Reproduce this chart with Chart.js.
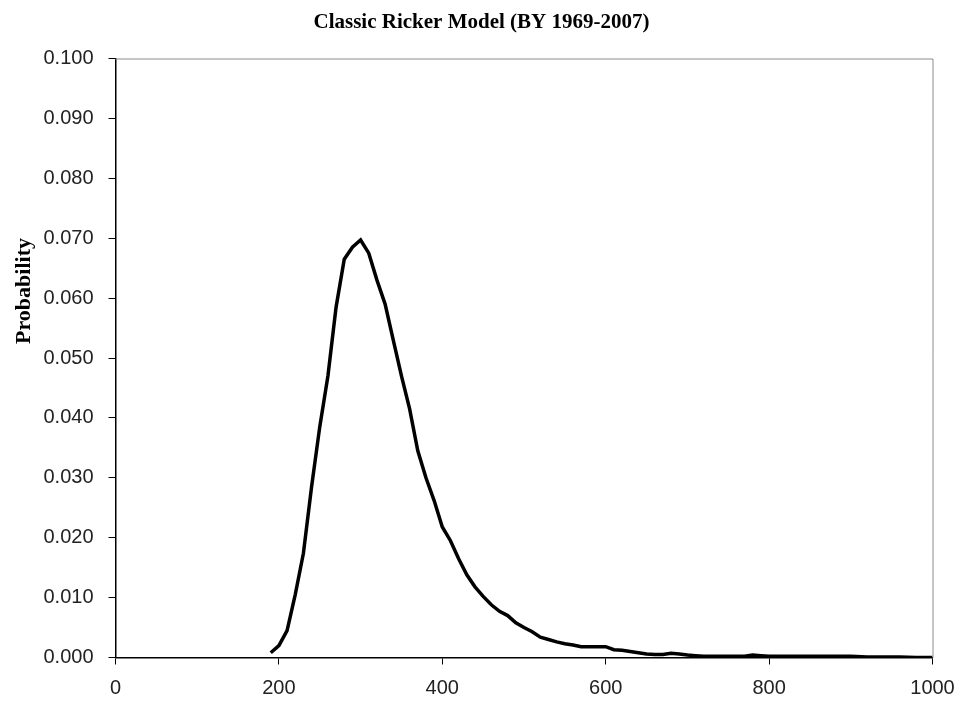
<!DOCTYPE html>
<html>
<head>
<meta charset="utf-8">
<script src="https://cdn.jsdelivr.net/npm/chart.js@4.4.0/dist/chart.umd.min.js"></script>
<style>
  html, body { margin: 0; padding: 0; background: #fff; }
  #wrap { width: 963px; height: 702px; }
</style>
</head>
<body>
<div id="wrap"><canvas id="chart"></canvas></div>
<script>
// escapement (x) and probability
const escapement = [190, 200, 210, 220, 230, 240, 250, 260, 270, 280, 290, 300, 310, 320, 330, 340, 350, 360, 370, 380,
  390, 400, 410, 420, 430, 440, 450, 460, 470, 480, 490, 500, 510, 520, 530, 540, 550, 560, 570, 580,
  590, 600, 610, 620, 630, 640, 650, 660, 670, 680, 690, 700, 710, 720, 730, 740, 750, 760, 770, 780,
  790, 800, 820, 840, 860, 880, 900, 920, 940, 960, 980, 1000];
const probability = [0.0008, 0.0020, 0.0045, 0.0105, 0.0174, 0.0285, 0.0385, 0.0470, 0.0585, 0.0665, 0.0685, 0.0697, 0.0675, 0.0630, 0.0590, 0.0530, 0.0470, 0.0415, 0.0345, 0.0300,
  0.0262, 0.0218, 0.0195, 0.0165, 0.0138, 0.0118, 0.0102, 0.0088, 0.0077, 0.0070, 0.0058, 0.0050, 0.0043, 0.0034, 0.0030, 0.0026, 0.0023, 0.0021, 0.0018, 0.0018,
  0.0018, 0.0018, 0.0013, 0.0012, 0.0010, 0.0008, 0.0006, 0.0005, 0.0005, 0.0007, 0.0006, 0.0004, 0.0003, 0.0002, 0.0002, 0.0002, 0.0002, 0.0002, 0.0002, 0.0004,
  0.0003, 0.0002, 0.0002, 0.0002, 0.0002, 0.0002, 0.0002, 0.0001, 0.0001, 0.0001, 0.0000, 0.0000];

const titleText = 'Classic Ricker Model (BY 1969-2007)';
const yTitle = 'Probability';

// gray frame on top/right + rotated y title (sits above the axis centre in the original)
const extras = {
  id: 'extras',
  beforeDatasetsDraw(chart) {
    const { ctx, chartArea: a } = chart;
    ctx.save();
    ctx.strokeStyle = '#8c8c8c';
    ctx.lineWidth = 1;
    ctx.beginPath();
    ctx.moveTo(a.left, a.top + 0.5);
    ctx.lineTo(a.right + 0.5, a.top + 0.5);
    ctx.lineTo(a.right + 0.5, a.bottom);
    ctx.stroke();
    ctx.restore();
  },
  afterDraw(chart) {
    const { ctx } = chart;
    ctx.save();
    ctx.translate(24, 291);
    ctx.rotate(-Math.PI / 2);
    ctx.font = 'bold 22px "Liberation Serif"';
    ctx.fillStyle = '#000';
    ctx.textAlign = 'center';
    ctx.textBaseline = 'middle';
    ctx.fillText(yTitle, 0, 0);
    ctx.restore();
  }
};

new Chart(document.getElementById('chart'), {
  type: 'line',
  data: {
    datasets: [{
      data: escapement.map((x, i) => ({ x: x, y: probability[i] })),
      borderColor: '#000',
      borderWidth: 3.5,
      pointRadius: 0,
      tension: 0,
      fill: false
    }]
  },
  options: {
    responsive: true,
    maintainAspectRatio: false,
    animation: false,
    layout: { padding: 0 },
    plugins: {
      legend: { display: false },
      tooltip: { enabled: false },
      title: {
        display: true,
        text: titleText,
        color: '#000',
        font: { family: '"Liberation Serif"', size: 21, weight: 'bold' },
        padding: { top: 10, bottom: 23.3 }
      }
    },
    scales: {
      x: {
        type: 'linear',
        min: 0,
        max: 1000,
        ticks: { stepSize: 200, color: '#222', padding: 12, maxRotation: 0,
          font: { family: '"Liberation Sans"', size: 20 },
          callback: v => String(v) },
        grid: { drawOnChartArea: false, tickLength: 7, color: '#000' },
        border: { color: '#000', width: 1.5 },
        afterFit(s) { s.height = 44.5; s.paddingRight = 30.5; }
      },
      y: {
        min: 0,
        max: 0.1,
        ticks: { stepSize: 0.01, color: '#222', padding: 15,
          font: { family: '"Liberation Sans"', size: 20 },
          callback: v => v.toFixed(3) },
        grid: { drawOnChartArea: false, tickLength: 7, color: '#000' },
        border: { color: '#000', width: 1.5 },
        afterFit(s) { s.width = 115.5; }
      }
    }
  },
  plugins: [extras]
});
</script>
</body>
</html>
